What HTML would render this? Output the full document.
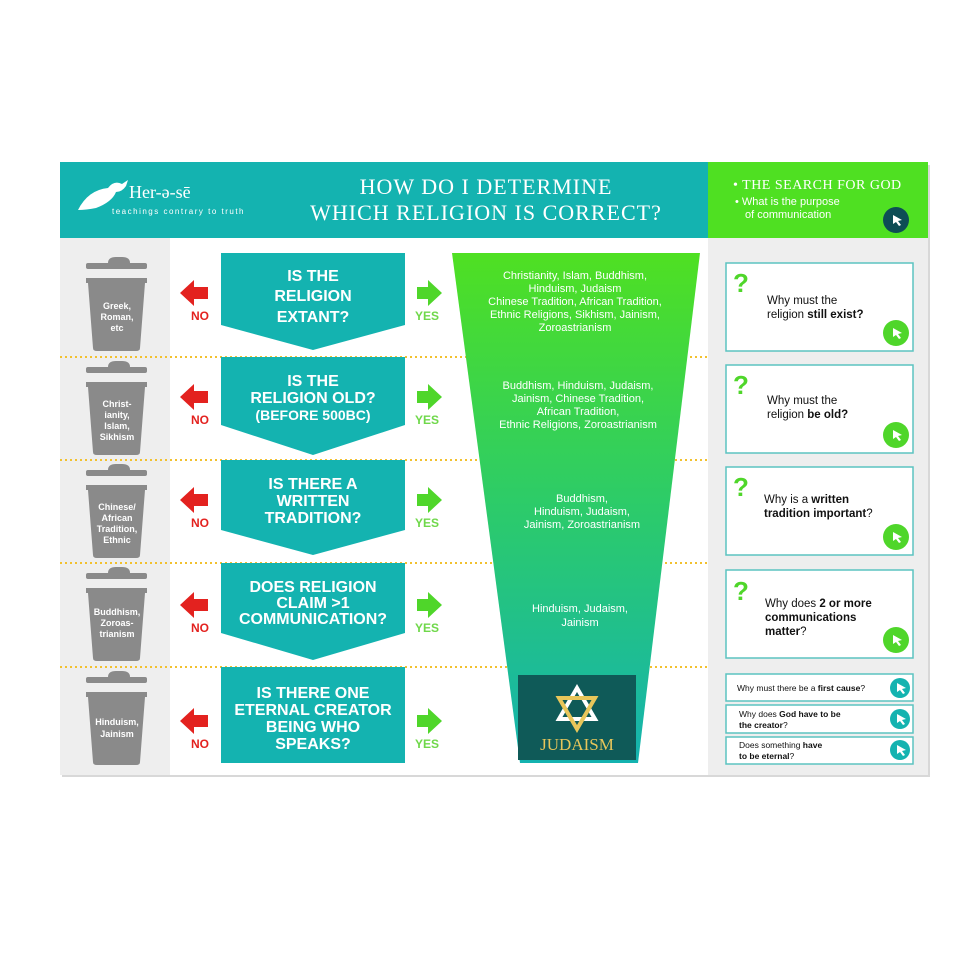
<!DOCTYPE html>
<html><head><meta charset="utf-8"><style>
html,body{margin:0;padding:0;background:#fff;}
svg{display:block;}
</style></head><body>
<svg width="980" height="980" viewBox="0 0 980 980" xmlns="http://www.w3.org/2000/svg" font-family="Liberation Sans, sans-serif">
<defs>
<linearGradient id="fg" x1="0" y1="0" x2="0" y2="1">
<stop offset="0" stop-color="#4fe022"/><stop offset="0.5" stop-color="#2ccb6a"/><stop offset="1" stop-color="#14b3b0"/>
</linearGradient>
<g id="can">
<rect x="86" y="10" width="61" height="6" rx="2" fill="#8a8a8a"/>
<path d="M108 10 q0 -6 8 -6 h6 q8 0 8 6 z" fill="#8a8a8a"/>
<rect x="86" y="25" width="61" height="5" fill="#8a8a8a"/>
<path d="M88 30 H145 L140 95 Q140 98 136 98 H97 Q93 98 93 95 Z" fill="#8a8a8a"/>
</g>
<g id="red"><path d="M180 0 L194 -13 V-6 H208 V6 H194 V13 Z" fill="#e3221f"/></g>
<g id="grn"><path d="M442 0 L428 -13 V-6 H417 V6 H428 V13 Z" fill="#4fd62a"/></g>
<g id="cur"><path d="M-4 -5 L5 0 L1 1 L4 5 L2 6 L-1 2 L-4 4 Z" fill="#fff"/></g>
</defs>
<rect x="62" y="165" width="868" height="612" fill="#d8d8d8"/>
<rect x="60" y="162" width="868" height="613" fill="#fff"/>
<rect x="60" y="238" width="110" height="537" fill="#eeeeee"/>
<rect x="708" y="238" width="220" height="537" fill="#eeeeee"/>
<rect x="60" y="162" width="648" height="76" fill="#14b3b0"/>
<rect x="708" y="162" width="220" height="76" fill="#4fe022"/>
<path d="M78 210 q10 -20 30 -22 q6 -8 14 -4 l6 -4 l-2 6 q-4 6 -10 6 q-4 10 -20 16 q-10 2 -18 2 z" fill="#fff"/>
<text x="129" y="198" font-size="18" fill="#fff" font-family="Liberation Serif, serif">Her-ə-sē</text>
<text x="112" y="214" font-size="8" fill="#fff" letter-spacing="1.5">teachings contrary to truth</text>
<text x="486" y="194" font-size="22" fill="#fff" text-anchor="middle" font-family="Liberation Serif, serif" letter-spacing="1">HOW DO I DETERMINE</text>
<text x="486" y="220" font-size="22" fill="#fff" text-anchor="middle" font-family="Liberation Serif, serif" letter-spacing="1">WHICH RELIGION IS CORRECT?</text>
<text x="733" y="189" font-size="14" fill="#fff" font-family="Liberation Serif, serif" letter-spacing="0.5">• THE SEARCH FOR GOD</text>
<text x="735" y="205" font-size="11" fill="#fff">• What is the purpose</text>
<text x="745" y="218" font-size="11" fill="#fff">of communication</text>
<circle cx="896" cy="220" r="13" fill="#0d4d55"/><use href="#cur" transform="translate(897,220)"/>
<g stroke="#f2c12e" stroke-width="2" stroke-dasharray="2 3">
<line x1="60" y1="357" x2="708" y2="357"/><line x1="60" y1="460" x2="708" y2="460"/>
<line x1="60" y1="563" x2="708" y2="563"/><line x1="60" y1="667" x2="708" y2="667"/>
</g>
<path d="M452 253 H700 L638 763 H520 Z" fill="url(#fg)"/>
<rect x="518" y="675" width="118" height="85" fill="#0f5a58"/>
<g fill="none" stroke-width="4">
<path d="M577 688 L595 719 H559 Z" stroke="#fff"/>
<path d="M577 729 L595 698 H559 Z" stroke="#e8c65a"/>
</g>
<text x="577" y="750" font-size="17" fill="#e8c65a" text-anchor="middle" font-family="Liberation Serif, serif">JUDAISM</text>
<g font-size="11" fill="#fff" text-anchor="middle">
<text x="575" y="279">Christianity, Islam, Buddhism,</text>
<text x="575" y="292">Hinduism, Judaism</text>
<text x="575" y="305">Chinese Tradition, African Tradition,</text>
<text x="575" y="318">Ethnic Religions, Sikhism, Jainism,</text>
<text x="575" y="331">Zoroastrianism</text>
<text x="578" y="389">Buddhism, Hinduism, Judaism,</text>
<text x="578" y="402">Jainism, Chinese Tradition,</text>
<text x="578" y="415">African Tradition,</text>
<text x="578" y="428">Ethnic Religions, Zoroastrianism</text>
<text x="582" y="502">Buddhism,</text>
<text x="582" y="515">Hinduism, Judaism,</text>
<text x="582" y="528">Jainism, Zoroastrianism</text>
<text x="580" y="612">Hinduism, Judaism,</text>
<text x="580" y="626">Jainism</text>
</g>
<g fill="#14b3b0">
<path d="M221 253 H405 V325 L313 350 L221 325 Z"/>
<path d="M221 357 H405 V425 L313 455 L221 425 Z"/>
<path d="M221 460 H405 V530 L313 555 L221 530 Z"/>
<path d="M221 563 H405 V633 L313 660 L221 633 Z"/>
<rect x="221" y="667" width="184" height="96"/>
</g>
<g font-size="16" font-weight="bold" fill="#fff" text-anchor="middle">
<text x="313" y="281">IS THE</text><text x="313" y="301">RELIGION</text><text x="313" y="322">EXTANT?</text>
<text x="313" y="386">IS THE</text><text x="313" y="403">RELIGION OLD?</text><text x="313" y="420" font-size="14">(BEFORE 500BC)</text>
<text x="313" y="489">IS THERE A</text><text x="313" y="506">WRITTEN</text><text x="313" y="523">TRADITION?</text>
<text x="313" y="592">DOES RELIGION</text><text x="313" y="608">CLAIM &gt;1</text><text x="313" y="624">COMMUNICATION?</text>
<text x="313" y="698">IS THERE ONE</text><text x="313" y="715">ETERNAL CREATOR</text><text x="313" y="732">BEING WHO</text><text x="313" y="749">SPEAKS?</text>
</g>
<use href="#can" transform="translate(0,253)"/><use href="#can" transform="translate(0,357)"/>
<use href="#can" transform="translate(0,460)"/><use href="#can" transform="translate(0,563)"/>
<use href="#can" transform="translate(0,667)"/>
<g font-size="9" font-weight="bold" fill="#fff" text-anchor="middle">
<text x="117" y="309">Greek,</text><text x="117" y="320">Roman,</text><text x="117" y="331">etc</text>
<text x="117" y="407">Christ-</text><text x="117" y="418">ianity,</text><text x="117" y="429">Islam,</text><text x="117" y="440">Sikhism</text>
<text x="117" y="510">Chinese/</text><text x="117" y="521">African</text><text x="117" y="532">Tradition,</text><text x="117" y="543">Ethnic</text>
<text x="117" y="615">Buddhism,</text><text x="117" y="626">Zoroas-</text><text x="117" y="637">trianism</text>
<text x="117" y="725">Hinduism,</text><text x="117" y="737">Jainism</text>
</g>
<use href="#red" transform="translate(0,293)"/><use href="#red" transform="translate(0,397)"/>
<use href="#red" transform="translate(0,500)"/><use href="#red" transform="translate(0,605)"/>
<use href="#red" transform="translate(0,721)"/>
<use href="#grn" transform="translate(0,293)"/><use href="#grn" transform="translate(0,397)"/>
<use href="#grn" transform="translate(0,500)"/><use href="#grn" transform="translate(0,605)"/>
<use href="#grn" transform="translate(0,721)"/>
<g font-size="12" font-weight="bold" text-anchor="middle">
<g fill="#e3221f"><text x="200" y="320">NO</text><text x="200" y="424">NO</text><text x="200" y="527">NO</text><text x="200" y="632">NO</text><text x="200" y="748">NO</text></g>
<g fill="#6fd84a"><text x="427" y="320">YES</text><text x="427" y="424">YES</text><text x="427" y="527">YES</text><text x="427" y="632">YES</text><text x="427" y="748">YES</text></g>
</g>
<g fill="#fff" stroke="#5cc3c0" stroke-width="1.5">
<rect x="726" y="263" width="187" height="88"/><rect x="726" y="365" width="187" height="88"/>
<rect x="726" y="467" width="187" height="88"/><rect x="726" y="570" width="187" height="88"/>
<rect x="726" y="674" width="187" height="27"/><rect x="726" y="705" width="187" height="28"/>
<rect x="726" y="737" width="187" height="27"/>
</g>
<g font-size="26" font-weight="bold" fill="#4fd62a">
<text x="733" y="292">?</text><text x="733" y="394">?</text><text x="733" y="496">?</text><text x="733" y="600">?</text>
</g>
<g fill="#4fd62a"><circle cx="896" cy="333" r="13"/><circle cx="896" cy="435" r="13"/><circle cx="896" cy="537" r="13"/><circle cx="896" cy="640" r="13"/></g>
<g fill="#14b3b0"><circle cx="900" cy="688" r="10"/><circle cx="900" cy="719" r="10"/><circle cx="900" cy="750" r="10"/></g>
<use href="#cur" transform="translate(897,333)"/><use href="#cur" transform="translate(897,435)"/>
<use href="#cur" transform="translate(897,537)"/><use href="#cur" transform="translate(897,640)"/>
<use href="#cur" transform="translate(901,688)"/><use href="#cur" transform="translate(901,719)"/><use href="#cur" transform="translate(901,750)"/>
<g font-size="11.5" fill="#111">
<text x="767" y="304">Why must the</text><text x="767" y="318">religion <tspan font-weight="bold">still exist?</tspan></text>
<text x="767" y="404">Why must the</text><text x="767" y="418">religion <tspan font-weight="bold">be old?</tspan></text>
<text x="764" y="503">Why is a <tspan font-weight="bold">written</tspan></text><text x="764" y="517"><tspan font-weight="bold">tradition important</tspan>?</text>
<text x="765" y="607">Why does <tspan font-weight="bold">2 or more</tspan></text><text x="765" y="621"><tspan font-weight="bold">communications</tspan></text><text x="765" y="635"><tspan font-weight="bold">matter</tspan>?</text>
</g>
<g font-size="8.5" fill="#111">
<text x="737" y="691">Why must there be a <tspan font-weight="bold">first cause</tspan>?</text>
<text x="739" y="717">Why does <tspan font-weight="bold">God have to be</tspan></text><text x="739" y="728"><tspan font-weight="bold">the creator</tspan>?</text>
<text x="739" y="748">Does something <tspan font-weight="bold">have</tspan></text><text x="739" y="759"><tspan font-weight="bold">to be eternal</tspan>?</text>
</g>
</svg>
</body></html>
